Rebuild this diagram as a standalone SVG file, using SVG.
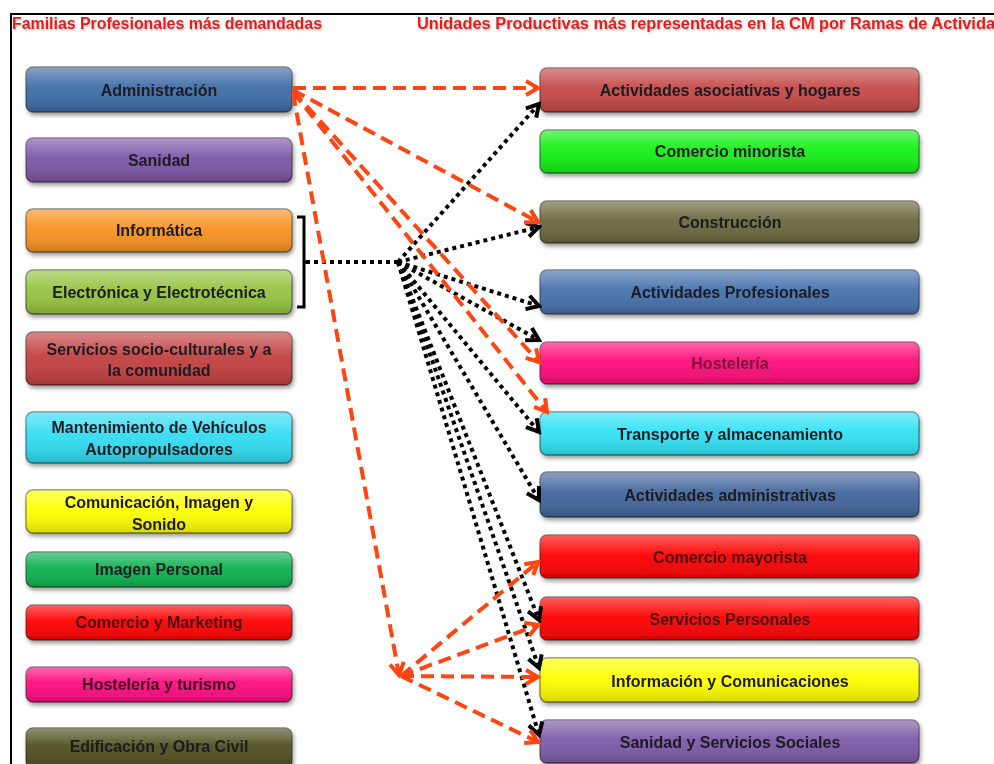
<svg xmlns="http://www.w3.org/2000/svg" width="994" height="764" viewBox="0 0 994 764">
<style>
.hdr{font-family:"Liberation Sans",Arial,sans-serif;font-weight:bold;font-size:16px;fill:#e41d1d}
.lbl{font-family:"Liberation Sans",Arial,sans-serif;font-weight:bold;font-size:16px;fill:#1b1b22;text-anchor:middle}
.box{stroke:#000;stroke-opacity:.45;stroke-width:1.3}
.gl{fill:url(#gloss)}
.red{fill:none;stroke:#ff4512;stroke-width:4;stroke-dasharray:13 7;marker-end:url(#ar)}
.blk{fill:none;stroke:#000;stroke-width:4;stroke-dasharray:4 4;marker-end:url(#ab)}
</style>
<defs>
<linearGradient id="gloss" x1="0" y1="0" x2="0" y2="1">
<stop offset="0" stop-color="#fff" stop-opacity=".38"/>
<stop offset=".45" stop-color="#fff" stop-opacity=".06"/>
<stop offset="1" stop-color="#000" stop-opacity=".16"/>
</linearGradient>
<filter id="sh" x="-5%" y="-20%" width="115%" height="160%">
<feDropShadow dx="1.5" dy="3" stdDeviation="2" flood-color="#000" flood-opacity=".4"/>
</filter>
<filter id="tsh" x="-2%" y="-30%" width="104%" height="170%">
<feDropShadow dx="1" dy="1.5" stdDeviation="1" flood-color="#000" flood-opacity=".25"/>
</filter>
<marker id="ar" markerUnits="userSpaceOnUse" markerWidth="18" markerHeight="18" viewBox="0 0 18 18" refX="15" refY="9" orient="auto">
<path d="M3,2 L15,9 L3,16" fill="none" stroke="#ff4512" stroke-width="4"/>
</marker>
<marker id="ab" markerUnits="userSpaceOnUse" markerWidth="18" markerHeight="18" viewBox="0 0 18 18" refX="15" refY="9" orient="auto">
<path d="M3,2 L15,9 L3,16" fill="none" stroke="#000" stroke-width="4"/>
</marker>
</defs>
<rect width="994" height="764" fill="#fff"/>
<path d="M10,14 H994 M11,14 V764" stroke="#000" stroke-width="2" fill="none"/>
<g filter="url(#tsh)">
<text class="hdr" x="12" y="29" textLength="310" lengthAdjust="spacingAndGlyphs">Familias Profesionales más demandadas</text>
<text class="hdr" x="417" y="29" textLength="588" lengthAdjust="spacingAndGlyphs">Unidades Productivas más representadas en la CM por Ramas de Actividad</text>
</g>

<g id="left-nodes">
<g id="n-administracion" filter="url(#sh)"><rect class="box" x="26" y="67" width="266" height="45" rx="7" fill="#3d6ba6"/><rect class="gl" x="26" y="67" width="266" height="45" rx="7"/><text class="lbl" x="159" y="96">Administración</text></g>
<g id="n-sanidad" filter="url(#sh)"><rect class="box" x="26" y="138" width="266" height="44" rx="7" fill="#7b55a6"/><rect class="gl" x="26" y="138" width="266" height="44" rx="7"/><text class="lbl" x="159" y="166">Sanidad</text></g>
<g id="n-informatica" filter="url(#sh)"><rect class="box" x="26" y="209" width="266" height="43" rx="7" fill="#f8911f"/><rect class="gl" x="26" y="209" width="266" height="43" rx="7"/><text class="lbl" x="159" y="236">Informática</text></g>
<g id="n-electronica" filter="url(#sh)"><rect class="box" x="26" y="270" width="266" height="44" rx="7" fill="#95c33f"/><rect class="gl" x="26" y="270" width="266" height="44" rx="7"/><text class="lbl" x="159" y="298">Electrónica y Electrotécnica</text></g>
<g id="n-servicios" filter="url(#sh)"><rect class="box" x="26" y="332" width="266" height="53" rx="7" fill="#c23f3f"/><rect class="gl" x="26" y="332" width="266" height="53" rx="7"/><text class="lbl" x="159" y="355">Servicios socio-culturales y a</text><text class="lbl" x="159" y="376">la comunidad</text></g>
<g id="n-mantenimiento" filter="url(#sh)"><rect class="box" x="26" y="412" width="266" height="51" rx="7" fill="#2fdcf2"/><rect class="gl" x="26" y="412" width="266" height="51" rx="7"/><text class="lbl" x="159" y="433">Mantenimiento de Vehículos</text><text class="lbl" x="159" y="455">Autopropulsadores</text></g>
<g id="n-comunicacion" filter="url(#sh)"><rect class="box" x="26" y="490" width="266" height="43" rx="7" fill="#ffff00"/><rect class="gl" x="26" y="490" width="266" height="43" rx="7"/><text class="lbl" x="159" y="508">Comunicación, Imagen y</text><text class="lbl" x="159" y="530">Sonido</text></g>
<g id="n-imagen" filter="url(#sh)"><rect class="box" x="26" y="552" width="266" height="35" rx="7" fill="#0cb04e"/><rect class="gl" x="26" y="552" width="266" height="35" rx="7"/><text class="lbl" x="159" y="575">Imagen Personal</text></g>
<g id="n-comercio-marketing" filter="url(#sh)"><rect class="box" x="26" y="605" width="266" height="35" rx="7" fill="#ff0000"/><rect class="gl" x="26" y="605" width="266" height="35" rx="7"/><text class="lbl" x="159" y="628" style="fill:#4a0808">Comercio y Marketing</text></g>
<g id="n-hosteleria-turismo" filter="url(#sh)"><rect class="box" x="26" y="667" width="266" height="35" rx="7" fill="#ff0a7e"/><rect class="gl" x="26" y="667" width="266" height="35" rx="7"/><text class="lbl" x="159" y="690" style="fill:#3a0820">Hostelería y turismo</text></g>
<g id="n-edificacion" filter="url(#sh)"><rect class="box" x="26" y="728" width="266" height="40" rx="7" fill="#4e4d1d"/><rect class="gl" x="26" y="728" width="266" height="40" rx="7"/><text class="lbl" x="159" y="752">Edificación y Obra Civil</text></g>
</g>

<g id="right-nodes">
<g id="r-asociativas" filter="url(#sh)"><rect class="box" x="540" y="68" width="379" height="44" rx="7" fill="#c44746"/><rect class="gl" x="540" y="68" width="379" height="44" rx="7"/><text class="lbl" x="730" y="96">Actividades asociativas y hogares</text></g>
<g id="r-minorista" filter="url(#sh)"><rect class="box" x="540" y="130" width="379" height="43" rx="7" fill="#12f012"/><rect class="gl" x="540" y="130" width="379" height="43" rx="7"/><text class="lbl" x="730" y="157">Comercio minorista</text></g>
<g id="r-construccion" filter="url(#sh)"><rect class="box" x="540" y="201" width="379" height="42" rx="7" fill="#6a673c"/><rect class="gl" x="540" y="201" width="379" height="42" rx="7"/><text class="lbl" x="730" y="228">Construcción</text></g>
<g id="r-profesionales" filter="url(#sh)"><rect class="box" x="540" y="270" width="379" height="44" rx="7" fill="#4470ab"/><rect class="gl" x="540" y="270" width="379" height="44" rx="7"/><text class="lbl" x="730" y="298">Actividades Profesionales</text></g>
<g id="r-hosteleria" filter="url(#sh)"><rect class="box" x="540" y="342" width="379" height="42" rx="7" fill="#ff0a78"/><rect class="gl" x="540" y="342" width="379" height="42" rx="7"/><text class="lbl" x="730" y="369" style="fill:#7a1238">Hostelería</text></g>
<g id="r-transporte" filter="url(#sh)"><rect class="box" x="540" y="412" width="379" height="43" rx="7" fill="#2fe2f5"/><rect class="gl" x="540" y="412" width="379" height="43" rx="7"/><text class="lbl" x="730" y="440">Transporte y almacenamiento</text></g>
<g id="r-administrativas" filter="url(#sh)"><rect class="box" x="540" y="472" width="379" height="45" rx="7" fill="#41659c"/><rect class="gl" x="540" y="472" width="379" height="45" rx="7"/><text class="lbl" x="730" y="501">Actividades administrativas</text></g>
<g id="r-mayorista" filter="url(#sh)"><rect class="box" x="540" y="535" width="379" height="43" rx="7" fill="#ff0000"/><rect class="gl" x="540" y="535" width="379" height="43" rx="7"/><text class="lbl" x="730" y="563" style="fill:#4a0808">Comercio mayorista</text></g>
<g id="r-personales" filter="url(#sh)"><rect class="box" x="540" y="597" width="379" height="43" rx="7" fill="#ff0000"/><rect class="gl" x="540" y="597" width="379" height="43" rx="7"/><text class="lbl" x="730" y="625" style="fill:#4a0808">Servicios Personales</text></g>
<g id="r-informacion" filter="url(#sh)"><rect class="box" x="540" y="658" width="379" height="44" rx="7" fill="#ffff00"/><rect class="gl" x="540" y="658" width="379" height="44" rx="7"/><text class="lbl" x="730" y="687">Información y Comunicaciones</text></g>
<g id="r-sanidad-ss" filter="url(#sh)"><rect class="box" x="540" y="720" width="379" height="43" rx="7" fill="#7b5aa8"/><rect class="gl" x="540" y="720" width="379" height="43" rx="7"/><text class="lbl" x="730" y="748">Sanidad y Servicios Sociales</text></g>
</g>

<g id="connectors">
<path d="M297,217 H304 V307 H297 M304,262 H310" fill="none" stroke="#000" stroke-width="3"/>
<path d="M306,262 H398" fill="none" stroke="#000" stroke-width="4" stroke-dasharray="4 4"/>
<path class="blk" d="M398,262 L539,104"/>
<path class="blk" d="M398,262 L539,227"/>
<path class="blk" d="M398,262 L539,306"/>
<path class="blk" d="M398,262 L539,340"/>
<path class="blk" d="M398,262 L539,432"/>
<path class="blk" d="M398,262 L539,500"/>
<path class="blk" d="M398,262 L539,620"/>
<path class="blk" d="M398,262 L539,668"/>
<path class="blk" d="M398,262 L539,735"/>
<path class="red" d="M293,88 L538,88"/>
<path class="red" d="M293,90 L538,222"/>
<path class="red" d="M293,91 L539,362"/>
<path class="red" d="M293,92 L547,412"/>
<path class="red" d="M293,93 L399,675"/>
<path class="red" d="M401,676 L538,562"/>
<path class="red" d="M401,676 L538,625"/>
<path class="red" d="M401,676 L538,677"/>
<path class="red" d="M401,676 L538,742"/>
</g>
</svg>
